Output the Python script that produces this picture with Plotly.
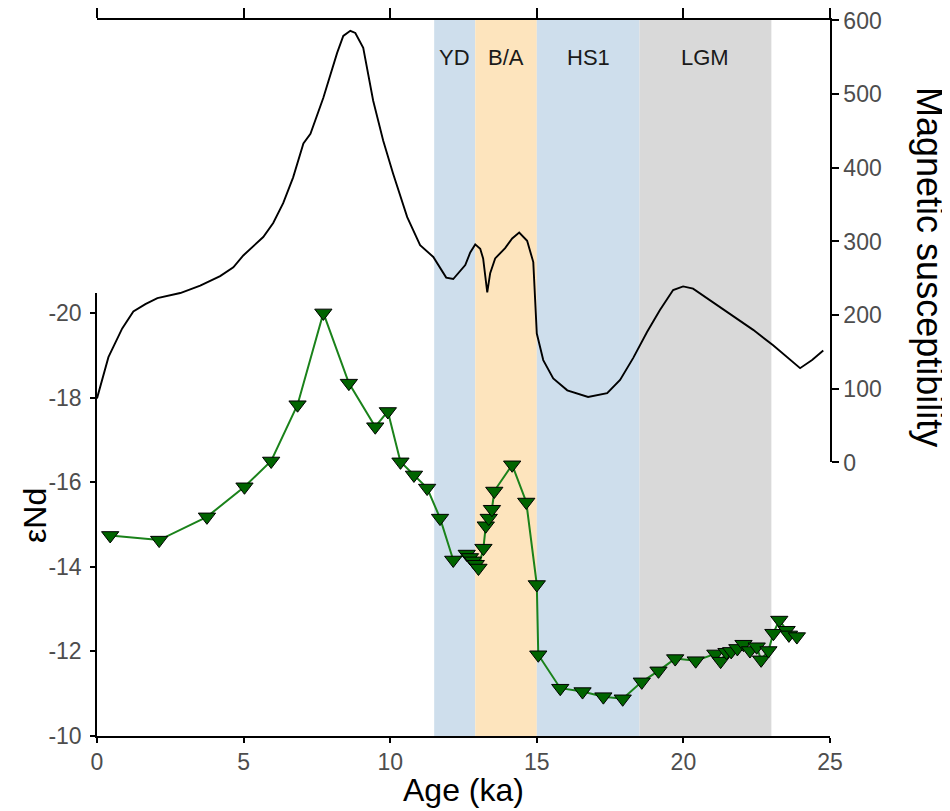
import plotly.graph_objects as go

# ---- data: eNd record (green triangles) ----
age_nd = [0.45, 2.12, 3.75, 5.03, 5.94, 6.84, 7.72, 8.59, 9.49, 9.92, 10.35, 10.81, 11.26,
          11.70, 12.15, 12.61, 12.72, 12.82, 12.92, 13.01, 13.18, 13.26, 13.36, 13.47, 13.55,
          14.16, 14.64, 15.00, 15.05, 15.80, 16.56, 17.27, 17.93, 18.58, 19.15, 19.72, 20.42,
          21.09, 21.27, 21.47, 21.63, 21.84, 22.05, 22.27, 22.50, 22.65, 22.90, 23.07, 23.27,
          23.52, 23.60, 23.87]
end_vals = [-14.74, -14.63, -15.18, -15.89, -16.50, -17.83, -20.00, -18.34, -17.31, -17.67,
            -16.48, -16.17, -15.86, -15.15, -14.16, -14.30, -14.22, -14.14, -14.06, -13.97,
            -14.44, -14.97, -15.15, -15.36, -15.79, -16.41, -15.53, -13.58, -11.92, -11.13,
            -11.05, -10.93, -10.88, -11.28, -11.54, -11.83, -11.78, -11.94, -11.77, -11.98,
            -12.00, -12.07, -12.17, -12.02, -12.11, -11.80, -12.02, -12.43, -12.74, -12.50,
            -12.39, -12.35]

# ---- data: magnetic susceptibility (black line) ----
age_ms = [0.00, 0.39, 0.86, 1.24, 1.65, 2.06, 2.84, 3.52, 4.20, 4.65, 4.99, 5.67, 6.01, 6.35,
          6.69, 7.04, 7.28, 7.72, 8.19, 8.40, 8.64, 8.81, 9.08, 9.42, 9.76, 10.10, 10.58, 11.02,
          11.47, 11.91, 12.15, 12.56, 12.73, 12.90, 13.07, 13.17, 13.31, 13.41, 13.58, 13.92,
          14.16, 14.40, 14.67, 14.88, 15.00, 15.22, 15.56, 16.04, 16.75, 17.40, 17.84, 18.29,
          18.76, 19.20, 19.65, 19.99, 20.33, 20.91, 22.38, 23.06, 23.98, 24.39, 24.77]
ms_vals = [87, 143, 182, 205, 215, 223, 230, 240, 253, 265, 281, 306, 325, 352, 387, 433, 446,
           495, 556, 579, 586, 583, 563, 491, 437, 392, 333, 295, 279, 251, 249, 268, 285, 296,
           290, 277, 231, 257, 277, 291, 304, 312, 301, 272, 175, 139, 114, 98, 89, 94, 112, 142,
           177, 207, 234, 239, 236, 220, 180, 159, 128, 139, 152]

# ---- climate intervals ----
band_names = ["YD", "B/A", "HS1", "LGM"]
band_start = [11.5, 12.9, 15.0, 18.5]
band_end = [12.9, 15.0, 18.5, 23.0]
band_colors = ["#CEDEEC", "#FDE4BD", "#CEDEEC", "#D9D9D9"]

x_ticks = [0, 5, 10, 15, 20, 25]
nd_ticks = [-20, -18, -16, -14, -12, -10]
ms_ticks = [0, 100, 200, 300, 400, 500, 600]

FONT = "Liberation Sans"
TICKC = "#4D4D4D"

fig = go.Figure()

fig.add_trace(go.Scatter(
    x=age_ms, y=ms_vals, mode="lines", xaxis="x", yaxis="y2",
    line=dict(color="black", width=1.9), showlegend=False, hoverinfo="skip"))

fig.add_trace(go.Scatter(
    x=age_nd, y=end_vals, mode="lines+markers", xaxis="x", yaxis="y",
    line=dict(color="#1A821A", width=2),
    marker=dict(symbol="triangle-down", size=15, color="#006400",
                line=dict(color="black", width=1)),
    showlegend=False, hoverinfo="skip"))

# invisible trace to keep the top axis alive
fig.add_trace(go.Scatter(x=[0, 25], y=[0, 0], xaxis="x2", yaxis="y2", mode="lines",
                         line=dict(width=0), opacity=0, showlegend=False, hoverinfo="skip"))

shapes = []
annots = []
for n, s, e, c in zip(band_names, band_start, band_end, band_colors):
    shapes.append(dict(type="rect", xref="x", yref="paper", x0=s, x1=e, y0=0, y1=1,
                       fillcolor=c, line=dict(width=0), layer="below"))
    annots.append(dict(text=n, x=(s + e) / 2, y=0.947, xref="x", yref="paper",
                       showarrow=False, xanchor="center", yanchor="middle",
                       font=dict(family=FONT, size=22, color="#1A1A1A")))

annots.append(dict(text="Age (ka)", x=0.5, y=-0.0754, xref="paper", yref="paper",
                   showarrow=False, xanchor="center", yanchor="middle",
                   font=dict(family=FONT, size=32, color="black")))
annots.append(dict(text="εNd", x=-0.0846, y=0.3087, xref="paper", yref="paper",
                   showarrow=False, xanchor="center", yanchor="middle", textangle=-90,
                   font=dict(family=FONT, size=32, color="black")))
annots.append(dict(text="Magnetic susceptibility", x=1.1364, y=0.655, xref="paper",
                   yref="paper", showarrow=False, xanchor="center", yanchor="middle",
                   textangle=90, font=dict(family=FONT, size=36, color="black")))

axis_common = dict(showline=True, linecolor="black", linewidth=1.5, ticks="outside",
                   tickcolor="black", tickwidth=1.5, showgrid=False, zeroline=False,
                   tickfont=dict(family=FONT, size=23, color=TICKC))

fig.update_layout(
    width=942, height=803,
    margin=dict(l=88.7, r=120.3, t=12, b=75, autoexpand=False),
    paper_bgcolor="white", plot_bgcolor="rgba(0,0,0,0)",
    xaxis=dict(domain=[0, 1], range=[0, 25], anchor="y", tickvals=x_ticks,
               ticktext=[str(v) for v in x_ticks], ticklen=5, **axis_common),
    xaxis2=dict(overlaying="x", anchor="y2", side="top", range=[0, 25], tickvals=x_ticks,
                showticklabels=False, ticklen=10, **axis_common),
    yaxis=dict(domain=[0, 0.6187], range=[-10, -20.47], anchor="x", tickvals=nd_ticks,
               ticktext=[str(v) for v in nd_ticks], ticklen=5, ticklabelstandoff=4,
               **axis_common),
    yaxis2=dict(domain=[0.382, 1], range=[0, 600.6], anchor="x", side="right",
                tickvals=ms_ticks, ticktext=[str(v) for v in ms_ticks], ticklen=7,
                ticklabeloverflow="allow", **axis_common),
    shapes=shapes, annotations=annots,
)

fig.write_html("out.html")
